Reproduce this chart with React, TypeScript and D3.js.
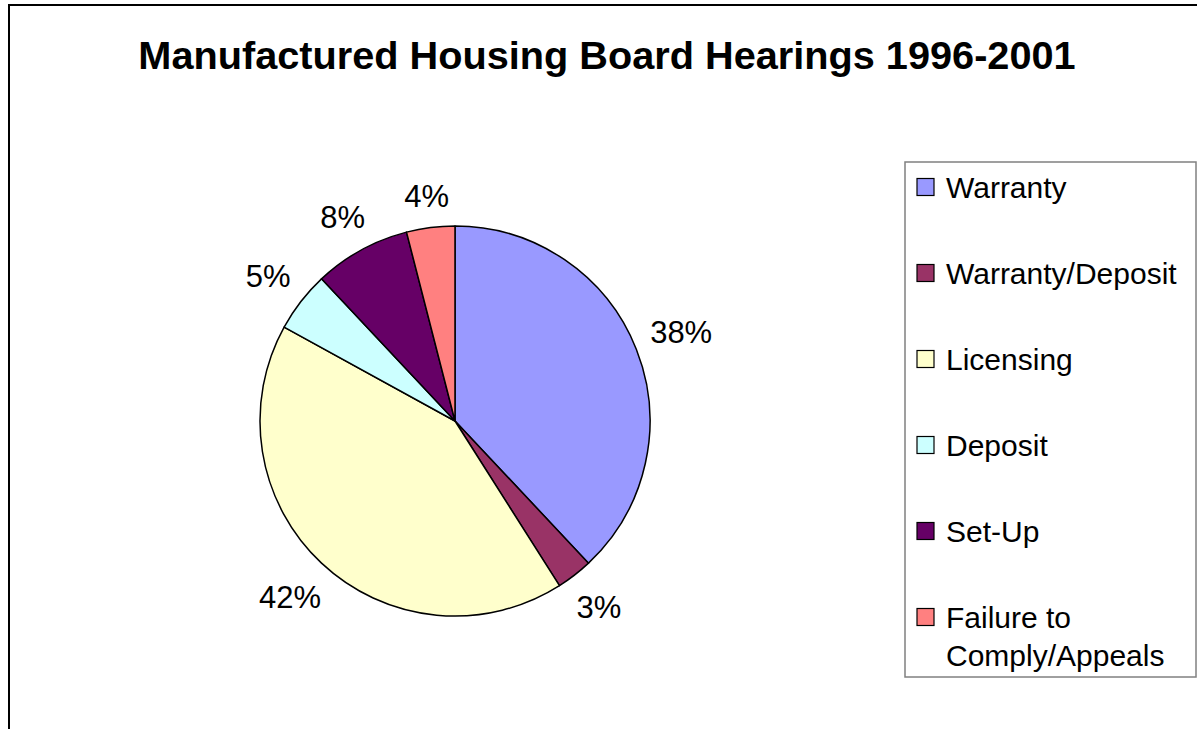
import React from "react";
import * as d3 from "d3";

const categories = ["Warranty", "Warranty/Deposit", "Licensing", "Deposit", "Set-Up", "Failure to Comply/Appeals"];
const legendLines = [["Warranty"], ["Warranty/Deposit"], ["Licensing"], ["Deposit"], ["Set-Up"], ["Failure to", "Comply/Appeals"]];
const values = [38, 3, 42, 5, 8, 4];
const labels = ["38%", "3%", "42%", "5%", "8%", "4%"];
const colors = ["#9999FF", "#993366", "#FFFFCC", "#CCFFFF", "#660066", "#FF8080"];
const title = "Manufactured Housing Board Hearings 1996-2001";

const W = 1197;
const H = 729;
const FONT = "'Liberation Sans', Arial, sans-serif";

export default function App() {
  const cx = 455;
  const cy = 421;
  const r = 195;
  const labelFs = 31;
  const pie = d3.pie<number>().sort(null).value((d) => d)(values);
  const arc = d3.arc<d3.PieArcDatum<number>>().innerRadius(0).outerRadius(r);

  const legendX = 905;
  const legendY = 162;
  const legendW = 291;
  const legendH = 515;
  const rowStep = 86;
  const legendFs = 30;

  return (
    <svg width={W} height={H} style={{ position: "absolute", left: 0, top: 0, background: "#fff" }}>
      <rect x={0} y={0} width={W} height={H} fill="#fff" />
      <path d={`M9,${H + 5} L9,5 L${W + 5},5`} fill="none" stroke="#000" strokeWidth={2} />
      <text x={607} y={55 + 0.358 * 39.7} textAnchor="middle" fontFamily={FONT} fontWeight="bold" fontSize={39.7} fill="#000">
        {title}
      </text>
      <g transform={`translate(${cx},${cy})`}>
        {pie.map((p, i) => (
          <path key={i} d={arc(p) || ""} fill={colors[i]} stroke="#000" strokeWidth={1.5} strokeLinejoin="round" />
        ))}
        {pie.map((p, i) => {
          const mid = (p.startAngle + p.endAngle) / 2;
          const ux = Math.sin(mid);
          const uy = -Math.cos(mid);
          const hw = (labels[i].length * 0.5 + 0.45) * labelFs / 2;
          const hh = 14;
          const dist = r + 15 + Math.abs(ux) * hw + Math.abs(uy) * hh;
          const lx = ux * dist;
          const ly = uy * dist;
          return (
            <text key={i} x={lx} y={ly + 0.358 * labelFs} textAnchor="middle" fontFamily={FONT} fontSize={labelFs} fill="#000">
              {labels[i]}
            </text>
          );
        })}
      </g>
      <rect x={legendX} y={legendY} width={legendW} height={legendH} fill="#fff" stroke="#808080" strokeWidth={1.5} />
      {categories.map((c, i) => {
        const yc = 187 + i * rowStep;
        return (
          <g key={c}>
            <rect x={917} y={yc - 8.5} width={17} height={17} fill={colors[i]} stroke="#000" strokeWidth={1.2} />
            {legendLines[i].map((ln, j) => (
              <text key={j} x={946} y={yc + j * 38.5 + 0.358 * legendFs} fontFamily={FONT} fontSize={legendFs} fill="#000">
                {ln}
              </text>
            ))}
          </g>
        );
      })}
    </svg>
  );
}
